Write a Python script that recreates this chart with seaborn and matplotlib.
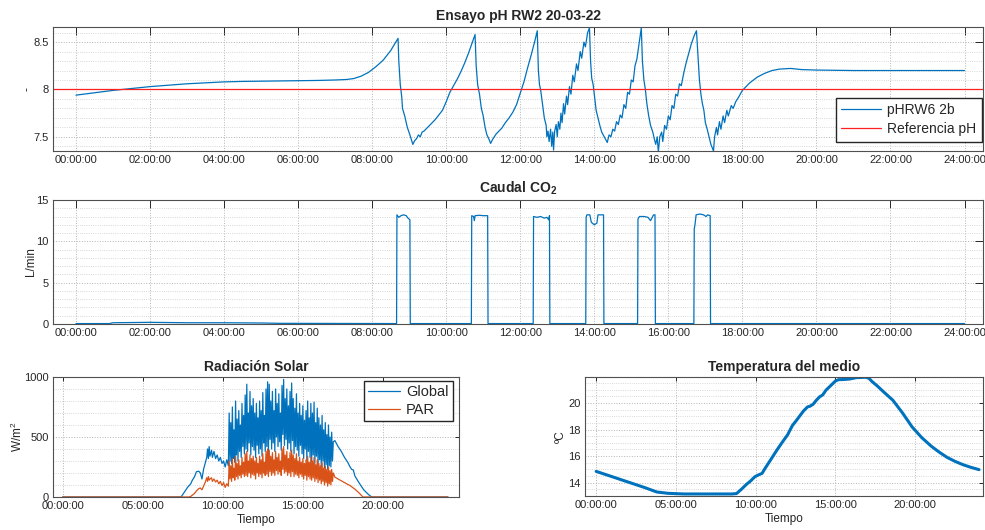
import numpy as np
import pandas as pd
import seaborn as sns
import matplotlib.pyplot as plt
from matplotlib.ticker import MultipleLocator, FixedLocator, FuncFormatter

# ---- pH (hours of day, pH units) ----
ph_hours = [
    0.0, 0.5, 1.0, 1.5, 2.0, 2.5, 3.0, 3.5, 4.0, 4.5,
    5.0, 5.5, 6.0, 6.5, 7.0, 7.3, 7.5, 7.7, 7.9, 8.1,
    8.3, 8.5, 8.7, 8.72, 8.76, 8.8, 8.82, 8.88, 8.95, 9.02,
    9.1, 9.15, 9.2, 9.25, 9.3, 9.35, 9.4, 9.5, 9.6, 9.7,
    9.8, 9.9, 10.0, 10.1, 10.2, 10.3, 10.4, 10.5, 10.6, 10.7,
    10.78, 10.81, 10.85, 10.9, 10.95, 11.0, 11.05, 11.1, 11.15, 11.2,
    11.25, 11.3, 11.35, 11.4, 11.5, 11.6, 11.7, 11.8, 11.9, 12.0,
    12.1, 12.2, 12.3, 12.4, 12.46, 12.49, 12.52, 12.55, 12.6, 12.65,
    12.7, 12.72, 12.75, 12.78, 12.82, 12.85, 12.88, 12.9, 12.93, 12.97,
    13.0, 13.03, 13.07, 13.1, 13.13, 13.17, 13.2, 13.25, 13.28, 13.33,
    13.37, 13.42, 13.46, 13.52, 13.56, 13.62, 13.66, 13.72, 13.76, 13.82,
    13.87, 13.9, 13.93, 13.97, 14.0, 14.05, 14.1, 14.15, 14.2, 14.27,
    14.35, 14.4, 14.45, 14.5, 14.55, 14.6, 14.65, 14.7, 14.75, 14.8,
    14.85, 14.9, 14.95, 15.0, 15.05, 15.1, 15.15, 15.2, 15.27, 15.3,
    15.34, 15.38, 15.42, 15.47, 15.52, 15.58, 15.62, 15.66, 15.7, 15.73,
    15.77, 15.82, 15.85, 15.9, 15.95, 16.0, 16.05, 16.1, 16.15, 16.2,
    16.25, 16.3, 16.35, 16.42, 16.48, 16.55, 16.62, 16.7, 16.76, 16.8,
    16.84, 16.88, 16.92, 16.96, 17.0, 17.05, 17.1, 17.15, 17.22, 17.25,
    17.3, 17.33, 17.38, 17.42, 17.48, 17.52, 17.58, 17.62, 17.7, 17.75,
    17.82, 17.9, 18.0, 18.1, 18.2, 18.4, 18.6, 18.8, 19.0, 19.3,
    19.6, 20.0, 21.0, 22.0, 23.0, 24.0]
ph_values = [
    7.94, 7.965, 7.99, 8.01, 8.03, 8.045, 8.06, 8.07, 8.08, 8.085,
    8.088, 8.09, 8.092, 8.095, 8.10, 8.105, 8.115, 8.14, 8.18, 8.24,
    8.31, 8.41, 8.54, 8.30, 8.05, 7.92, 7.80, 7.72, 7.60, 7.52,
    7.42, 7.46, 7.48, 7.52, 7.50, 7.55, 7.56, 7.60, 7.64, 7.68,
    7.73, 7.78, 7.87, 7.97, 8.04, 8.11, 8.19, 8.28, 8.38, 8.49,
    8.58, 8.25, 8.05, 7.95, 7.80, 7.72, 7.60, 7.52, 7.48, 7.43,
    7.47, 7.50, 7.53, 7.55, 7.59, 7.65, 7.70, 7.76, 7.84, 7.96,
    8.08, 8.23, 8.37, 8.52, 8.62, 8.20, 8.05, 8.00, 7.85, 7.70,
    7.62, 7.50, 7.56, 7.45, 7.58, 7.40, 7.55, 7.36, 7.56, 7.63,
    7.50, 7.66, 7.58, 7.75, 7.65, 7.85, 7.74, 7.93, 7.84, 8.03,
    7.95, 8.15, 8.08, 8.27, 8.20, 8.40, 8.33, 8.50, 8.45, 8.60,
    8.65, 8.30, 8.12, 8.05, 7.95, 7.78, 7.70, 7.62, 7.55, 7.50,
    7.44, 7.52, 7.50, 7.58, 7.56, 7.66, 7.63, 7.73, 7.70, 7.84,
    7.80, 7.97, 7.95, 8.10, 8.08, 8.25, 8.32, 8.46, 8.65, 8.30,
    8.10, 8.00, 7.85, 7.72, 7.62, 7.55, 7.48, 7.42, 7.50, 7.34,
    7.50, 7.55, 7.45, 7.62, 7.58, 7.72, 7.68, 7.83, 7.80, 7.95,
    7.93, 8.06, 8.04, 8.18, 8.28, 8.38, 8.48, 8.57, 8.62, 8.35,
    8.10, 7.95, 7.85, 7.78, 7.65, 7.58, 7.50, 7.42, 7.35, 7.50,
    7.60, 7.52, 7.66, 7.58, 7.72, 7.65, 7.78, 7.72, 7.83, 7.80,
    7.87, 7.92, 7.99, 8.03, 8.07, 8.13, 8.17, 8.20, 8.215, 8.222,
    8.21, 8.205, 8.20, 8.20, 8.20, 8.20]
ph_ref = 8.0

# ---- CO2 flow (L/min) ----
co2_hours = [0.0, 0.9, 1.0, 2.0, 3.0, 4.0, 5.0, 5.5, 8.66,
             8.67, 8.72, 8.78, 8.85, 8.92, 8.97, 9.02, 9.03,
             10.68, 10.69, 10.74, 10.76, 10.78, 10.9, 11.0, 11.12, 11.13,
             12.35, 12.36, 12.45, 12.55, 12.65, 12.72, 12.77, 12.79, 12.80,
             13.77, 13.78, 13.8, 13.88, 13.92, 14.0, 14.07, 14.1, 14.25, 14.26,
             15.17, 15.18, 15.22, 15.35, 15.45, 15.52, 15.6, 15.64, 15.65,
             16.69, 16.70, 16.72, 16.75, 16.85, 16.95, 17.02, 17.06, 17.13, 17.14,
             24.0]
co2_lmin = [0.05, 0.05, 0.15, 0.2, 0.15, 0.15, 0.12, 0.08, 0.05,
            13.2, 12.9, 13.1, 13.2, 13.1, 12.8, 12.6, 0.05,
            0.05, 13.1, 13.0, 12.5, 13.1, 13.15, 13.1, 13.1, 0.05,
            0.05, 13.0, 12.9, 13.0, 12.8, 12.9, 12.6, 13.1, 0.05,
            0.05, 12.9, 13.2, 13.2, 12.3, 12.0, 12.2, 13.2, 13.2, 0.05,
            0.05, 12.7, 13.0, 13.0, 12.9, 12.5, 13.2, 13.2, 0.05,
            0.05, 11.5, 12.0, 13.2, 13.3, 13.2, 13.0, 13.2, 13.1, 0.05,
            0.05]

# ---- solar radiation (W/m2) ----
rad_hours_early = [0, 7.4, 7.6, 7.8, 7.9, 8.0, 8.1, 8.2, 8.3, 8.35,
                   8.5, 8.6, 8.7, 8.8, 8.9, 9.0, 9.05, 9.1, 9.15, 9.2,
                   9.3, 9.35, 9.45, 9.55, 9.65, 9.75, 9.85, 9.95, 10.05, 10.15,
                   10.25, 10.35]
global_early = [0, 0, 40, 80, 95, 110, 140, 160, 190, 210,
                215, 200, 150, 230, 280, 330, 400, 320, 420, 340,
                390, 330, 380, 320, 350, 300, 330, 280, 300, 250,
                310, 260]
par_early = [0, 0, 0, 0, 0, 5, 15, 25, 40, 50,
             70, 75, 60, 90, 120, 160, 130, 170, 140, 150,
             160, 130, 150, 125, 140, 110, 130, 95, 120, 80,
             110, 90]
# cloudy period, logged every 3 min from 10:24
rad_dense_start, rad_dense_step = 10.40, 0.05
global_dense = [
    700, 300, 620, 280, 750, 320, 560, 290, 800, 350,
    650, 300, 720, 380, 600, 330, 780, 420, 680, 360,
    850, 400, 940, 380, 700, 450, 880, 350, 760, 420,
    820, 390, 700, 330, 780, 430, 660, 360, 800, 400,
    720, 340, 870, 450, 680, 380, 900, 420, 960, 350,
    940, 480, 800, 400, 880, 450, 720, 380, 900, 500,
    780, 420, 860, 460, 700, 390, 930, 520, 980, 430,
    820, 480, 900, 400, 760, 450, 880, 380, 950, 470,
    820, 360, 740, 420, 860, 390, 700, 340, 780, 430,
    680, 360, 760, 320, 640, 400, 720, 300, 800, 380,
    660, 330, 780, 290, 700, 350, 790, 280, 620, 340,
    740, 260, 660, 310, 600, 250, 680, 300, 560, 240,
    620, 270, 520, 230, 600, 260, 500, 250, 540, 300,
    460]
par_dense = [
    300, 150, 260, 130, 320, 160, 240, 140, 340, 170,
    280, 150, 310, 180, 260, 160, 330, 190, 290, 170,
    360, 180, 380, 170, 300, 200, 350, 160, 320, 190,
    340, 180, 300, 150, 330, 200, 280, 170, 340, 190,
    310, 160, 360, 200, 290, 180, 380, 190, 400, 170,
    390, 210, 340, 180, 370, 200, 310, 180, 380, 220,
    330, 190, 360, 210, 300, 180, 400, 230, 420, 200,
    350, 210, 380, 180, 320, 200, 370, 170, 390, 210,
    350, 170, 320, 190, 360, 180, 300, 160, 330, 190,
    290, 170, 320, 150, 280, 180, 310, 140, 340, 170,
    290, 150, 330, 140, 300, 160, 330, 130, 270, 150,
    310, 120, 280, 140, 260, 110, 290, 130, 240, 100,
    260, 120, 230, 90, 250, 110, 220, 100, 230, 130,
    200]
rad_hours_late = [17.0, 17.2, 17.4, 17.6, 17.8, 17.95, 18.05, 18.15, 18.25, 18.5,
                  18.75, 18.8, 19.1, 19.3, 24.06]
global_late = [470, 420, 380, 330, 290, 250, 230, 225, 175, 120, 70, 60, 20, 0, 0]
par_late = [165, 150, 135, 120, 105, 95, 85, 75, 65, 35, 0, 0, 0, 0, 0]

# ---- medium temperature (ºC) ----
temp_hours = [0, 1, 2, 3, 3.8, 4.5, 5.5, 6.5, 7.5, 8.5,
              8.8, 9.1, 9.4, 9.7, 9.95, 10.2, 10.4, 10.6, 10.9, 11.3,
              11.7, 12.0, 12.3, 12.5, 12.75, 13.0, 13.25, 13.4, 13.6, 13.8,
              14.0, 14.2, 14.4, 14.7, 15.0, 15.2, 15.5, 15.9, 16.3, 16.9,
              17.1, 17.3, 17.6, 18.0, 18.6, 19.2, 19.8, 20.4, 21.0, 21.5,
              22.0, 22.5, 23.0, 23.5, 24.0]
temp_c = [14.85, 14.45, 14.05, 13.65, 13.3, 13.2, 13.15, 13.15, 13.15, 13.15,
          13.18, 13.5, 13.85, 14.15, 14.45, 14.6, 14.7, 15.1, 15.65, 16.4,
          17.1, 17.6, 18.3, 18.6, 19.0, 19.4, 19.7, 19.75, 19.9, 20.2,
          20.45, 20.6, 20.95, 21.3, 21.65, 21.75, 21.76, 21.8, 21.9, 21.93,
          21.85, 21.6, 21.3, 20.85, 20.2, 19.25, 18.2, 17.4, 16.75, 16.3,
          15.9, 15.6, 15.35, 15.15, 14.98]

BLUE = '#0072BD'
ORANGE = '#D95319'
AXC = '#262626'

sns.set_style("white")
plt.rcParams['font.family'] = ['Liberation Sans', 'DejaVu Sans']
plt.rcParams['mathtext.fontset'] = 'custom'
plt.rcParams['mathtext.rm'] = 'Liberation Sans'
plt.rcParams['mathtext.bf'] = 'Liberation Sans:bold'

dense_hours = list(np.round(rad_dense_start + rad_dense_step * np.arange(len(global_dense)), 2))
rad = pd.DataFrame({
    'hora': rad_hours_early + dense_hours + rad_hours_late,
    'Global': global_early + global_dense + global_late,
    'PAR': par_early + par_dense + par_late,
})


def hms(h, pos):
    return f"{int(round(h)):02d}:00:00"


def matlab_look(ax, xstep, xlim, ylim, yticks, yminor, ticklen):
    ax.set_xlim(xlim)
    ax.set_ylim(ylim)
    ax.xaxis.set_major_locator(MultipleLocator(xstep))
    ax.xaxis.set_major_formatter(FuncFormatter(hms))
    ax.yaxis.set_major_locator(FixedLocator(yticks))
    ax.yaxis.set_major_formatter(FuncFormatter(lambda v, p: f"{v:g}"))
    ax.yaxis.set_minor_locator(MultipleLocator(yminor))
    ax.grid(which='major', ls=':', color='#b5b5b5', lw=0.7)
    ax.grid(which='minor', axis='y', ls=':', color='#cccccc', lw=0.6)
    ax.set_axisbelow(True)
    ax.tick_params(which='major', direction='in', length=ticklen, width=0.7,
                   top=True, right=True, color=AXC, labelcolor=AXC,
                   labelsize=8, pad=3)
    ax.tick_params(which='minor', length=0)
    for s in ax.spines.values():
        s.set_color('#505050')
        s.set_linewidth(0.8)
    ax.set_xlabel('')
    ax.set_ylabel('')


fig = plt.figure(figsize=(9.85, 5.3), dpi=100)
ax1 = fig.add_axes([0.0538, 0.7151, 0.9442, 0.2340])
ax2 = fig.add_axes([0.0538, 0.3887, 0.9442, 0.2340])
ax3 = fig.add_axes([0.0538, 0.0623, 0.4122, 0.2264])
ax4 = fig.add_axes([0.5939, 0.0642, 0.4041, 0.2245])

# pH
sns.lineplot(x=ph_hours, y=ph_values, ax=ax1, color=BLUE, lw=0.9,
             estimator=None, sort=False, label='pHRW6 2b')
ax1.axhline(ph_ref, color='#ff2020', lw=0.9, label='Referencia pH')
matlab_look(ax1, 2, (-0.62, 24.5), (7.35, 8.66), [7.5, 8, 8.5], 0.1, 6)
ax1.set_title('Ensayo pH RW2 20-03-22', fontsize=10, fontweight='bold', pad=5)
ax1.set_ylabel('-', fontsize=8.5, color=AXC)
ax1.yaxis.set_label_coords(-0.021, 0.5)
h, l = ax1.get_legend_handles_labels()
ax1.legend(h, l, loc='lower right', bbox_to_anchor=(0.9986, 0.075),
           fontsize=10, frameon=True, fancybox=False, edgecolor=AXC,
           framealpha=1, handlelength=2.9, borderpad=0.4, labelspacing=0.35,
           handletextpad=0.4, borderaxespad=0.0)

# CO2
sns.lineplot(x=co2_hours, y=co2_lmin, ax=ax2, color=BLUE, lw=0.9,
             estimator=None, sort=False)
matlab_look(ax2, 2, (-0.62, 24.5), (0, 15), [0, 5, 10, 15], 1, 6)
ax2.set_title(r'Caudal CO$_\mathbf{2}$', fontsize=10, fontweight='bold', pad=5)
ax2.set_ylabel('L/min', fontsize=8.5, color=AXC)
ax2.yaxis.set_label_coords(-0.017, 0.5)

# Radiation
sns.lineplot(data=rad, x='hora', y='Global', ax=ax3, color=BLUE, lw=0.9,
             estimator=None, sort=False, label='Global')
sns.lineplot(data=rad, x='hora', y='PAR', ax=ax3, color=ORANGE, lw=0.9,
             estimator=None, sort=False, label='PAR')
matlab_look(ax3, 5, (-0.6, 24.75), (0, 1000), [0, 500, 1000], 100, 3)
ax3.set_title('Radiación Solar', fontsize=10, fontweight='bold', pad=4)
ax3.set_ylabel(r'W/m$^2$', fontsize=8.5, color=AXC)
ax3.yaxis.set_label_coords(-0.069, 0.5)
ax3.set_xlabel('Tiempo', fontsize=8.5, color=AXC, labelpad=2)
h, l = ax3.get_legend_handles_labels()
ax3.legend(h, l, loc='upper right', bbox_to_anchor=(0.985, 0.967),
           fontsize=10.5, frameon=True, fancybox=False, edgecolor=AXC,
           framealpha=1, handlelength=2.2, borderpad=0.3, labelspacing=0.25,
           handletextpad=0.4, borderaxespad=0.0)

# Temperature
sns.lineplot(x=temp_hours, y=temp_c, ax=ax4, color=BLUE, lw=2.2,
             estimator=None, sort=False)
matlab_look(ax4, 5, (-0.7, 24.25), (13.0, 21.95), [14, 16, 18, 20], 0.5, 3)
ax4.set_title('Temperatura del medio', fontsize=10, fontweight='bold', pad=4)
ax4.set_ylabel('ºC', fontsize=8.5, color=AXC)
ax4.yaxis.set_label_coords(-0.045, 0.5)
ax4.set_xlabel('Tiempo', fontsize=8.5, color=AXC, labelpad=2)

fig.savefig('out.png', dpi=100)
